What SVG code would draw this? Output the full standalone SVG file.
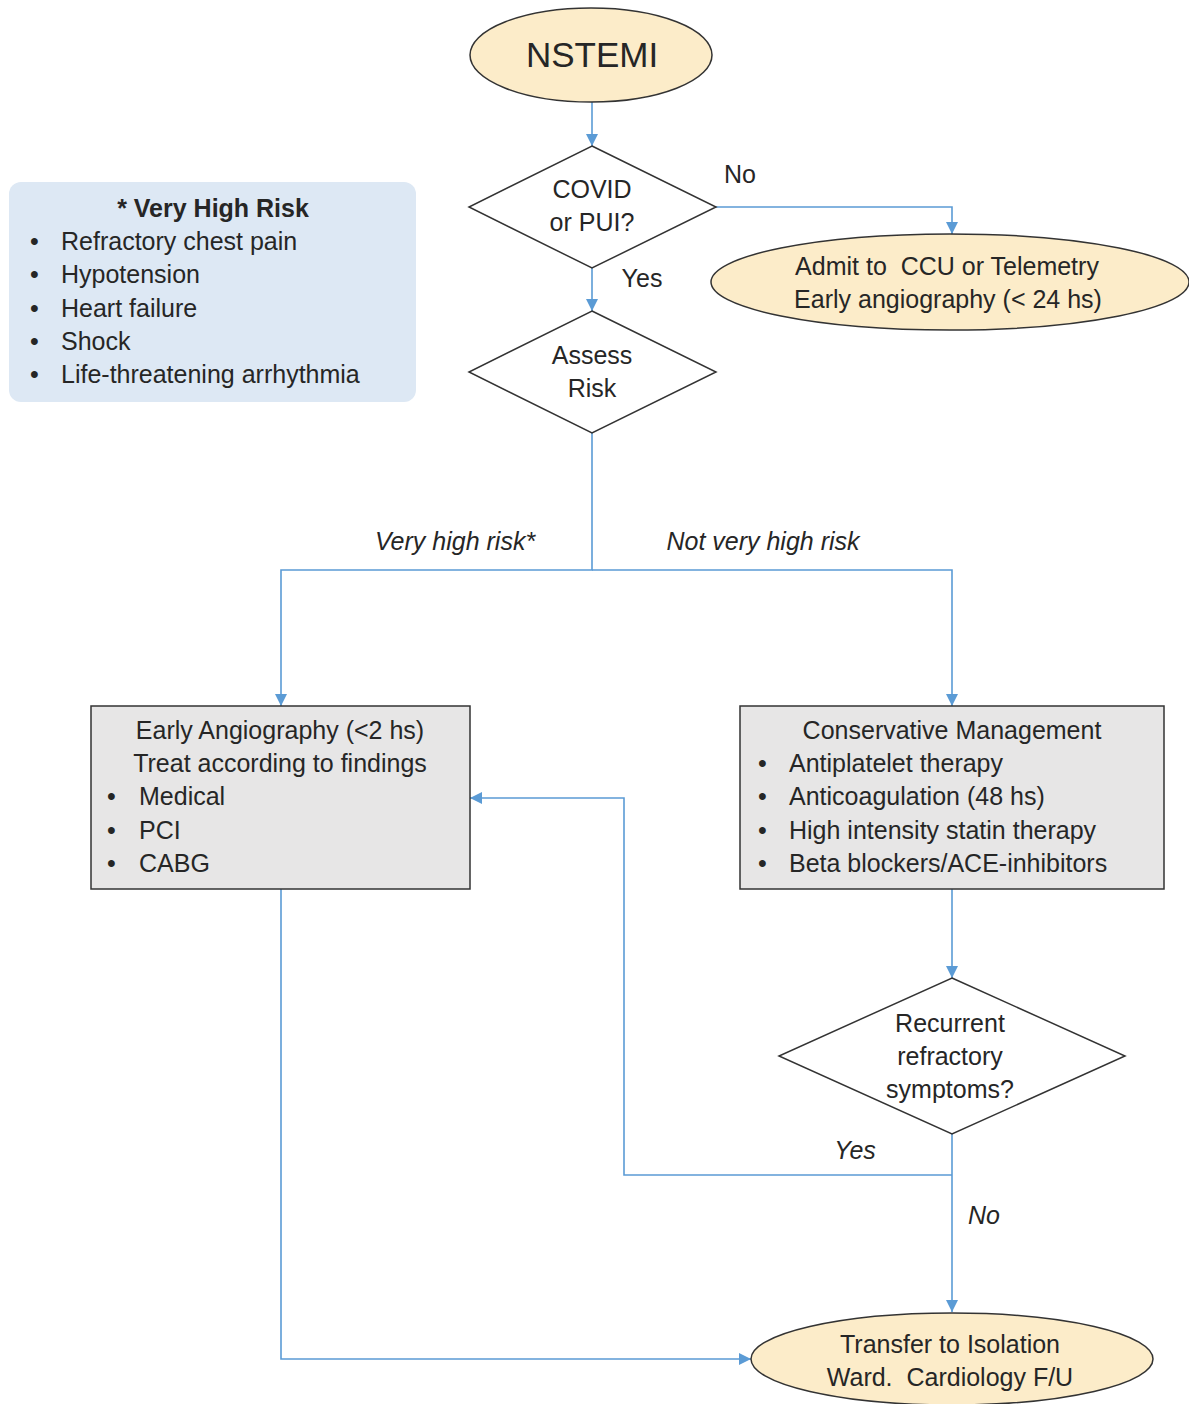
<svg xmlns="http://www.w3.org/2000/svg" width="1189" height="1404" viewBox="0 0 1189 1404">
<style>
text{font-family:"Liberation Sans",Arial,sans-serif;font-size:25px;fill:#262626}
.c{text-anchor:middle}
.i{font-style:italic}
.b{font-weight:bold}
.pre{white-space:pre}
.term{fill:#fcecc9;stroke:#333;stroke-width:1.5}
.dec{fill:#fff;stroke:#333;stroke-width:1.5}
.proc{fill:#e7e6e6;stroke:#333;stroke-width:1.5}
.note{fill:#dde8f4;stroke:none}
.conn{fill:none;stroke:#5b9bd5;stroke-width:1.6}
</style>
<defs>
<marker id="ah" viewBox="0 0 10 10" refX="10" refY="5" markerWidth="12" markerHeight="12" markerUnits="userSpaceOnUse" orient="auto">
<path d="M0,0 L10,5 L0,10 z" fill="#5b9bd5"/>
</marker>
</defs>
<rect width="1189" height="1404" fill="#fff"/>
<g id="connectors">
<path class="conn" d="M592,102 V146" marker-end="url(#ah)"/>
<path class="conn" d="M716,207 H952 V234" marker-end="url(#ah)"/>
<path class="conn" d="M592,268 V311" marker-end="url(#ah)"/>
<path class="conn" d="M592,433 V570 H281 V706" marker-end="url(#ah)"/>
<path class="conn" d="M592,570 H952 V706" marker-end="url(#ah)"/>
<path class="conn" d="M952,889 V978" marker-end="url(#ah)"/>
<path class="conn" d="M952,1134 V1312" marker-end="url(#ah)"/>
<path class="conn" d="M952,1175 H624 V798 H470" marker-end="url(#ah)"/>
<path class="conn" d="M281,889 V1359 H751" marker-end="url(#ah)"/>
<text x="740" y="183" class="c">No</text>
<text x="642" y="287" class="c">Yes</text>
<text x="455" y="550" class="c i">Very high risk*</text>
<text x="763" y="550" class="c i">Not very high risk</text>
<text x="855" y="1159" class="c i">Yes</text>
<text x="984" y="1224" class="c i">No</text>
</g>
<g id="nstemi">
<ellipse class="term" cx="591" cy="55" rx="121" ry="47"/>
<text x="592" y="67" class="c" style="font-size:35px">NSTEMI</text>
</g>
<g id="covid">
<polygon class="dec" points="592,146 716,207 592,268 469,207"/>
<text x="592" y="198" class="c">COVID</text>
<text x="592" y="231" class="c">or PUI?</text>
</g>
<g id="admit">
<ellipse class="term" cx="950" cy="282" rx="239" ry="48"/>
<text x="947" y="275" class="c pre">Admit to  CCU or Telemetry</text>
<text x="948" y="308" class="c">Early angiography (&lt; 24 hs)</text>
</g>
<g id="assess">
<polygon class="dec" points="592,311 716,372 592,433 469,372"/>
<text x="592" y="364" class="c">Assess</text>
<text x="592" y="397" class="c">Risk</text>
</g>
<g id="veryhigh">
<rect class="note" x="9" y="182" width="407" height="220" rx="12"/>
<text x="213" y="217" class="c b">* Very High Risk</text>
<text x="30" y="250">•</text><text x="61" y="250">Refractory chest pain</text>
<text x="30" y="283">•</text><text x="61" y="283">Hypotension</text>
<text x="30" y="317">•</text><text x="61" y="317">Heart failure</text>
<text x="30" y="350">•</text><text x="61" y="350">Shock</text>
<text x="30" y="383">•</text><text x="61" y="383">Life-threatening arrhythmia</text>
</g>
<g id="early">
<rect class="proc" x="91" y="706" width="379" height="183"/>
<text x="280" y="739" class="c">Early Angiography (&lt;2 hs)</text>
<text x="280" y="772" class="c">Treat according to findings</text>
<text x="107" y="805">•</text><text x="139" y="805">Medical</text>
<text x="107" y="839">•</text><text x="139" y="839">PCI</text>
<text x="107" y="872">•</text><text x="139" y="872">CABG</text>
</g>
<g id="conservative">
<rect class="proc" x="740" y="706" width="424" height="183"/>
<text x="952" y="739" class="c">Conservative Management</text>
<text x="758" y="772">•</text><text x="789" y="772">Antiplatelet therapy</text>
<text x="758" y="805">•</text><text x="789" y="805">Anticoagulation (48 hs)</text>
<text x="758" y="839">•</text><text x="789" y="839">High intensity statin therapy</text>
<text x="758" y="872">•</text><text x="789" y="872">Beta blockers/ACE-inhibitors</text>
</g>
<g id="recurrent">
<polygon class="dec" points="952,978 1125,1056 952,1134 779,1056"/>
<text x="950" y="1032" class="c">Recurrent</text>
<text x="950" y="1065" class="c">refractory</text>
<text x="950" y="1098" class="c">symptoms?</text>
</g>
<g id="transfer">
<ellipse class="term" cx="952" cy="1359" rx="201" ry="46"/>
<text x="950" y="1353" class="c">Transfer to Isolation</text>
<text x="950" y="1386" class="c pre">Ward.  Cardiology F/U</text>
</g>
</svg>
